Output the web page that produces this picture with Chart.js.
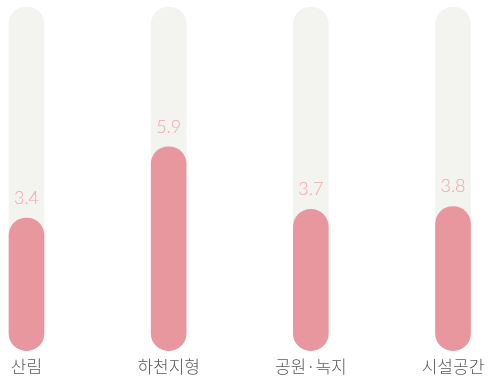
<!DOCTYPE html>
<html>
<head>
<meta charset="utf-8">
<script src="https://cdn.jsdelivr.net/npm/chart.js@4/dist/chart.umd.min.js"></script>
<style>
  html, body { margin: 0; padding: 0; background: #fff; }
  #wrap { width: 489px; height: 379px; }
</style>
</head>
<body>
<div id="wrap"><canvas id="areaChart" width="489" height="379"></canvas></div>
<script>
// --- Data ---
const categories = ["산림", "하천지형", "공원·녹지", "시설공간"];
const values = [3.4, 5.9, 3.7, 3.8];
const trackTop = [10.8, 10.8, 10.8, 10.8];
const axisMin = -1.25;
const axisMax = 10.8;

// value labels above the pink bars
const valueLabels = {
  id: "valueLabels",
  afterDatasetsDraw(chart) {
    const ctx = chart.ctx;
    const meta = chart.getDatasetMeta(0);
    ctx.save();
    ctx.font = "300 18px Lato, 'Noto Sans', sans-serif";
    ctx.fillStyle = "#f4a3ab";
    ctx.textAlign = "center";
    ctx.textBaseline = "bottom";
    meta.data.forEach((bar, i) => {
      ctx.fillText(values[i].toFixed(1), bar.x, bar.y - 11);
    });
    ctx.restore();
  }
};

const ctx = document.getElementById("areaChart").getContext("2d");

let areaChart = new Chart(ctx, {
  type: "bar",
  data: {
    labels: categories,
    datasets: [
      {
        data: values,
        base: axisMin,
        backgroundColor: "#e8979f",
        borderRadius: 18,
        borderSkipped: false,
        barThickness: 35,
        grouped: false,
        clip: false
      },
      {
        data: trackTop,
        base: axisMin,
        backgroundColor: "#f3f3ef",
        borderRadius: 18,
        borderSkipped: false,
        barThickness: 35,
        grouped: false,
        clip: false
      }
    ]
  },
  options: {
    responsive: false,
    animation: false,
    layout: { padding: { top: 7, left: 26.5, right: 36, bottom: 4 } },
    plugins: { legend: { display: false }, tooltip: { enabled: false } },
    scales: {
      x: {
        offset: false,
        grid: { display: false },
        border: { display: false },
        ticks: {
          color: "#5a5a5a",
          padding: -2,
          font: { family: "'Noto Sans CJK KR', sans-serif", size: 17, weight: 300 }
        }
      },
      y: { display: false, min: axisMin, max: axisMax }
    }
  },
  plugins: [valueLabels]
});
</script>
</body>
</html>
